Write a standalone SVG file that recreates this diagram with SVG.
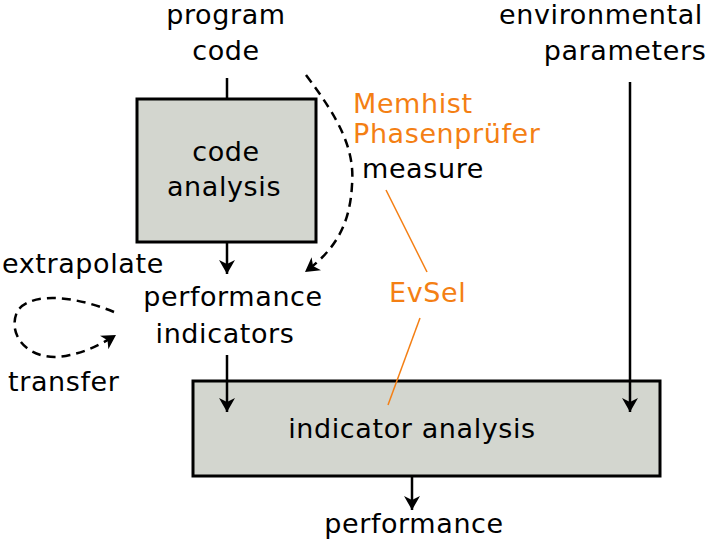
<svg xmlns="http://www.w3.org/2000/svg" width="727" height="541" viewBox="0 0 727 541">
<defs>
<marker id="a" viewBox="0 0 14 16" refX="14" refY="8" markerWidth="14" markerHeight="16" orient="auto" markerUnits="userSpaceOnUse"><path d="M0,0 L14,8 L0,16 L4,8 Z" fill="#000"/></marker>
</defs>
<style>
text{font-family:"DejaVu Sans",sans-serif;font-size:27px;letter-spacing:0.6px;fill:#000}
.o{fill:#f47f14}
.box{fill:#d3d6cf;stroke:#000;stroke-width:3}
.l{stroke:#000;stroke-width:2.5;fill:none}
.d{stroke:#000;stroke-width:2.5;fill:none;stroke-dasharray:9,6}
.ol{stroke:#f47f14;stroke-width:1.5;fill:none}
</style>
<rect width="727" height="541" fill="#fff"/>
<g id="code-analysis"><rect class="box" x="137" y="99" width="179" height="143"/>
<text x="226" y="161" text-anchor="middle">code</text><text x="224" y="196" text-anchor="middle">analysis</text></g>
<g id="indicator-analysis"><rect class="box" x="193" y="381" width="467" height="95"/>
<text x="412" y="438" text-anchor="middle">indicator analysis</text></g>
<g id="program-code"><text x="226" y="24" text-anchor="middle">program</text><text x="226" y="60" text-anchor="middle">code</text></g>
<g id="env"><text x="601" y="24" text-anchor="middle">environmental</text><text x="625" y="60" text-anchor="middle">parameters</text></g>
<g id="perf-ind"><text x="233" y="306" text-anchor="middle">performance</text><text x="225" y="343" text-anchor="middle">indicators</text></g>
<g id="perf"><text x="414" y="533" text-anchor="middle">performance</text></g>
<g id="labels">
<text x="2" y="273">extrapolate</text><text x="8" y="391">transfer</text>
<text class="o" x="353" y="113">Memhist</text><text class="o" x="353" y="143">Phasenprüfer</text>
<text x="362" y="178">measure</text><text class="o" x="389" y="302">EvSel</text>
</g>
<g id="connectors">
<line class="l" x1="227" y1="78" x2="227" y2="99"/>
<line class="l" x1="227" y1="242" x2="227" y2="274" marker-end="url(#a)"/>
<line class="l" x1="227" y1="355" x2="227" y2="412" marker-end="url(#a)"/>
<line class="l" x1="630" y1="82" x2="630" y2="412" marker-end="url(#a)"/>
<line class="l" x1="412" y1="476" x2="412" y2="510" marker-end="url(#a)"/>
<path class="d" d="M306,75 C340,120 355,150 352,185 C350,225 335,250 305,272" marker-end="url(#a)"/>
<path class="d" d="M114,312 C80,298 35,290 18,310 C5,335 30,365 70,355 C85,352 100,345 116,335" marker-end="url(#a)"/>
<line class="ol" x1="386" y1="190" x2="427" y2="272"/>
<line class="ol" x1="420" y1="318" x2="388" y2="405"/>
</g>
</svg>
